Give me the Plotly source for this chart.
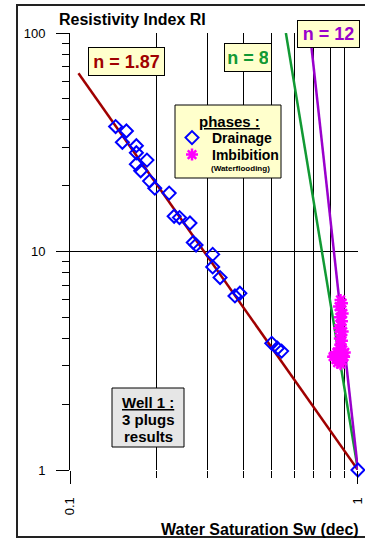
import plotly.graph_objects as go

# ---- data ----
drain_sw = [0.144, 0.157, 0.152, 0.170, 0.170, 0.185, 0.170, 0.176, 0.189, 0.197,
            0.221, 0.230, 0.240, 0.261, 0.268, 0.274, 0.313, 0.313, 0.332, 0.374,
            0.389, 0.502, 0.525, 0.543, 1.0]
drain_ri = [37.3, 35.6, 31.6, 30.5, 28.3, 26.2, 25.1, 23.4, 21.0, 19.5,
            18.5, 14.5, 14.3, 13.5, 11.0, 10.7, 9.7, 8.5, 7.6, 6.26,
            6.44, 3.80, 3.61, 3.50, 1.0]

imb_sw = [0.870, 0.880, 0.860, 0.875, 0.885, 0.865, 0.880, 0.870, 0.860, 0.885,
          0.875, 0.865, 0.880, 0.870, 0.860, 0.885, 0.845, 0.875, 0.830, 0.895,
          0.860, 0.840, 0.880, 0.820, 0.900, 0.850, 0.870]
imb_ri = [6.0, 5.8, 5.6, 5.4, 5.2, 5.0, 4.8, 4.6, 4.45, 4.3,
          4.15, 4.0, 3.9, 3.75, 3.6, 3.55, 3.45, 3.4, 3.35, 3.3,
          3.25, 3.2, 3.15, 3.3, 3.45, 3.1, 3.05]

# Archie lines (end points)
n187_sw = [0.107, 1.0]
n187_ri = [65.4, 1.0]
n8_sw = [0.562, 1.0]
n8_ri = [100.0, 1.0]
n12_sw = [0.681, 1.0]
n12_ri = [100.0, 1.0]

x_major = [0.1, 1]
x_major_text = ["0.1", "1"]
x_minor = [0.2, 0.3, 0.4, 0.5, 0.6, 0.7, 0.8, 0.9]
y_major = [1, 10, 100]
y_minor = [2, 3, 4, 5, 6, 7, 8, 9, 20, 30, 40, 50, 60, 70, 80, 90]

FONT = "Arial, Liberation Sans, sans-serif"
DARKRED = "#A00000"
GREEN = "#119933"
PURPLE = "#9900CC"
BLUE = "#0000FF"
MAGENTA = "#FF00FF"

fig = go.Figure()
fig.add_trace(go.Scatter(x=n187_sw, y=n187_ri, mode="lines",
                         line=dict(color=DARKRED, width=2.5), showlegend=False))
fig.add_trace(go.Scatter(x=n8_sw, y=n8_ri, mode="lines",
                         line=dict(color=GREEN, width=2.5), showlegend=False))
fig.add_trace(go.Scatter(x=n12_sw, y=n12_ri, mode="lines",
                         line=dict(color=PURPLE, width=2.5), showlegend=False))
fig.add_trace(go.Scatter(x=imb_sw, y=imb_ri, mode="markers",
                         name="<b>Imbibition</b>", legend="legend2",
                         marker=dict(symbol="asterisk-open", size=10, color=MAGENTA,
                                     line=dict(color=MAGENTA, width=2.5)),
                         cliponaxis=False))
fig.add_trace(go.Scatter(x=drain_sw, y=drain_ri, mode="markers", name="<b>Drainage</b>",
                         legend="legend",
                         marker=dict(symbol="diamond-open", size=10, color=BLUE,
                                     line=dict(color=BLUE, width=2)),
                         cliponaxis=False))

def px_x(p):
    return (p - 70) / 288.0

def px_y(p):
    return (470 - p) / 437.0

annots = [
    dict(text="<b>n = 1.87</b>", x=px_x(126.5), y=px_y(61.5), color=DARKRED, w=69, h=21),
    dict(text="<b>n = 8</b>", x=px_x(248), y=px_y(57.5), color=GREEN, w=40, h=21),
    dict(text="<b>n = 12</b>", x=px_x(328.5), y=px_y(34), color=PURPLE, w=55, h=20),
]
for a in annots:
    fig.add_annotation(text=a["text"], x=a["x"], y=a["y"], xref="paper", yref="paper",
                       showarrow=False, xanchor="center", yanchor="middle",
                       font=dict(family=FONT, size=18, color=a["color"]),
                       bgcolor="#FFFFCC", bordercolor="black", borderwidth=1,
                       borderpad=3, width=a["w"], height=a["h"])

# Legend frame and texts
fig.add_shape(type="rect", xref="paper", yref="paper",
              x0=px_x(175), x1=px_x(281), y0=px_y(178), y1=px_y(105),
              fillcolor="#FFFFCC", line=dict(color="black", width=1), layer="above")
fig.add_annotation(text="<b><u>phases :</u></b>", x=px_x(229), y=px_y(121),
                   xref="paper", yref="paper", showarrow=False,
                   xanchor="center", yanchor="middle",
                   font=dict(family=FONT, size=15, color="black"))
fig.add_annotation(text="<b>(Waterflooding)</b>", x=px_x(240), y=px_y(168.5),
                   xref="paper", yref="paper", showarrow=False,
                   xanchor="center", yanchor="middle",
                   font=dict(family=FONT, size=8, color="black"))

# Titles
fig.add_annotation(text="<b>Resistivity Index RI</b>", x=px_x(57), y=px_y(20),
                   xref="paper", yref="paper", showarrow=False,
                   xanchor="left", yanchor="middle",
                   font=dict(family=FONT, size=16, color="black"))
fig.add_annotation(text="<b>Water Saturation Sw (dec)</b>", x=px_x(361), y=px_y(529),
                   xref="paper", yref="paper", showarrow=False,
                   xanchor="right", yanchor="middle",
                   font=dict(family=FONT, size=16, color="black"))

# Well box
fig.add_shape(type="rect", xref="paper", yref="paper",
              x0=px_x(112), x1=px_x(184), y0=px_y(447), y1=px_y(388),
              fillcolor="#E6E6E6", line=dict(color="black", width=1), layer="above")
for txt, py in [("<b><u>Well 1 :</u></b>", 402), ("<b>3 plugs</b>", 419), ("<b>results</b>", 436)]:
    fig.add_annotation(text=txt, x=px_x(148), y=px_y(py), xref="paper", yref="paper",
                       showarrow=False, xanchor="center", yanchor="middle",
                       font=dict(family=FONT, size=15, color="black"))

# Outer frame
fig.add_shape(type="rect", xref="paper", yref="paper",
              x0=px_x(17), x1=px_x(368), y0=px_y(537), y1=px_y(5),
              line=dict(color="#222222", width=2), layer="above")

leg_common = dict(xanchor="left", yanchor="top", bgcolor="rgba(0,0,0,0)", borderwidth=0,
                  font=dict(family=FONT, size=14, color="black"), itemwidth=30)

fig.update_layout(
    width=365, height=542,
    margin=dict(l=70, r=7, t=33, b=72, autoexpand=False),
    paper_bgcolor="white", plot_bgcolor="white",
    font=dict(family=FONT, size=13, color="black"),
    legend=dict(x=px_x(172), y=px_y(122), **leg_common),
    legend2=dict(x=px_x(172), y=px_y(139), **leg_common),
    xaxis=dict(
        type="log", range=[-1, 0.0002], automargin=False,
        tickvals=x_major, ticktext=x_major_text, tickangle=-90,
        ticks="outside", ticklen=13, tickcolor="black", tickwidth=1,
        showgrid=True, gridcolor="black", gridwidth=1,
        showline=False, zeroline=False, ticklabelstandoff=8,
        ticklabeloverflow="allow",
        tickfont=dict(family=FONT, size=13, color="black"),
        minor=dict(tickvals=x_minor, ticks="outside", ticklen=7, tickcolor="black",
                   showgrid=True, gridcolor="black", gridwidth=1),
    ),
    yaxis=dict(
        type="log", range=[0, 2], automargin=False,
        tickvals=y_major, ticktext=["1", "10", "100"],
        ticks="outside", ticklen=13, tickcolor="black", tickwidth=1,
        showgrid=True, gridcolor="black", gridwidth=1,
        showline=True, linecolor="black", linewidth=1, zeroline=False,
        ticklabelstandoff=8,
        tickfont=dict(family=FONT, size=13, color="black"),
        minor=dict(tickvals=y_minor, ticks="outside", ticklen=7, tickcolor="black",
                   showgrid=False),
    ),
)

fig.write_html("out.html")
